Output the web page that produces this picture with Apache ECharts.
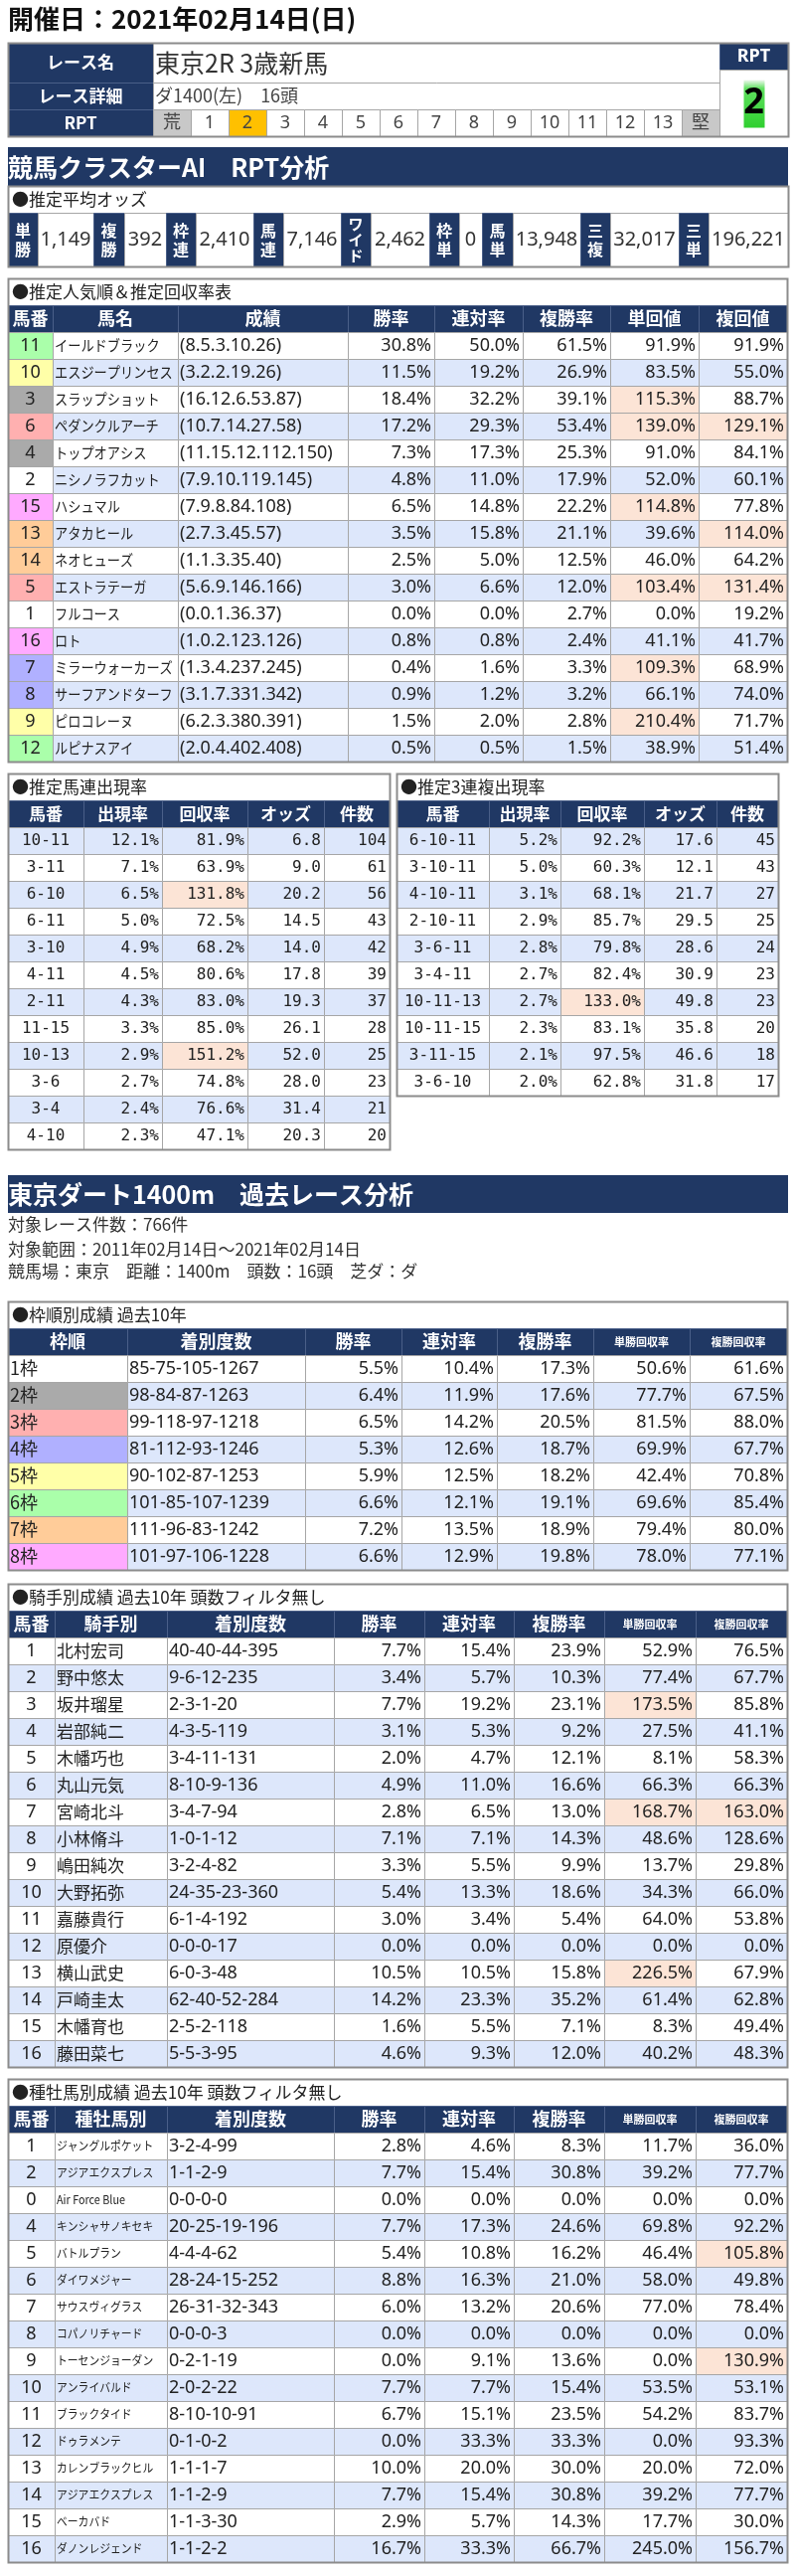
<!DOCTYPE html>
<html><head><meta charset="utf-8">
<script src="https://cdn.jsdelivr.net/npm/echarts@6/dist/echarts.min.js"></script>
<style>html,body{margin:0;padding:0;background:#fff}#c{width:800px;height:2591px}</style>
</head><body><div id="c"></div>
<script>
// ================= DATA =================
const pageTitle = '開催日：2021年02月14日(日)';
const raceLabels = ['レース名', 'レース詳細', 'RPT'];
const raceName = '東京2R 3歳新馬';
const raceDetail = 'ダ1400(左)　16頭';
const rptScale = ['荒','1','2','3','4','5','6','7','8','9','10','11','12','13','堅'];
const rptValue = 2;

const banner1 = '競馬クラスターAI　RPT分析';
const oddsTitle = '●推定平均オッズ';
const oddsLabels = ['単勝','複勝','枠連','馬連','ワイド','枠単','馬単','三複','三単'];
const oddsValues = [1149, 392, 2410, 7146, 2462, 0, 13948, 32017, 196221];

const popTitle = '●推定人気順＆推定回収率表';
const popHeaders = ['馬番','馬名','成績','勝率','連対率','複勝率','単回値','複回値'];
const popNo = [11,10,3,6,4,2,15,13,14,5,1,16,7,8,9,12];
const popName = ['イールドブラック','エスジープリンセス','スラップショット','ペダンクルアーチ','トップオアシス','ニシノラフカット','ハシュマル','アタカヒール','ネオヒューズ','エストラテーガ','フルコース','ロト','ミラーウォーカーズ','サーフアンドターフ','ピロコレーヌ','ルピナスアイ'];
const popRecord = ['(8.5.3.10.26)','(3.2.2.19.26)','(16.12.6.53.87)','(10.7.14.27.58)','(11.15.12.112.150)','(7.9.10.119.145)','(7.9.8.84.108)','(2.7.3.45.57)','(1.1.3.35.40)','(5.6.9.146.166)','(0.0.1.36.37)','(1.0.2.123.126)','(1.3.4.237.245)','(3.1.7.331.342)','(6.2.3.380.391)','(2.0.4.402.408)'];
const popWin = [30.8,11.5,18.4,17.2,7.3,4.8,6.5,3.5,2.5,3.0,0.0,0.8,0.4,0.9,1.5,0.5];
const popRentai = [50.0,19.2,32.2,29.3,17.3,11.0,14.8,15.8,5.0,6.6,0.0,0.8,1.6,1.2,2.0,0.5];
const popFukusho = [61.5,26.9,39.1,53.4,25.3,17.9,22.2,21.1,12.5,12.0,2.7,2.4,3.3,3.2,2.8,1.5];
const popTanKai = [91.9,83.5,115.3,139.0,91.0,52.0,114.8,39.6,46.0,103.4,0.0,41.1,109.3,66.1,210.4,38.9];
const popFukuKai = [91.9,55.0,88.7,129.1,84.1,60.1,77.8,114.0,64.2,131.4,19.2,41.7,68.9,74.0,71.7,51.4];

const pairHeaders = ['馬番','出現率','回収率','オッズ','件数'];
const umarenTitle = '●推定馬連出現率';
const umarenCombo = ['10-11','3-11','6-10','6-11','3-10','4-11','2-11','11-15','10-13','3-6','3-4','4-10'];
const umarenRate = [12.1,7.1,6.5,5.0,4.9,4.5,4.3,3.3,2.9,2.7,2.4,2.3];
const umarenReturn = [81.9,63.9,131.8,72.5,68.2,80.6,83.0,85.0,151.2,74.8,76.6,47.1];
const umarenOdds = [6.8,9.0,20.2,14.5,14.0,17.8,19.3,26.1,52.0,28.0,31.4,20.3];
const umarenCount = [104,61,56,43,42,39,37,28,25,23,21,20];

const trioTitle = '●推定3連複出現率';
const trioCombo = ['6-10-11','3-10-11','4-10-11','2-10-11','3-6-11','3-4-11','10-11-13','10-11-15','3-11-15','3-6-10'];
const trioRate = [5.2,5.0,3.1,2.9,2.8,2.7,2.7,2.3,2.1,2.0];
const trioReturn = [92.2,60.3,68.1,85.7,79.8,82.4,133.0,83.1,97.5,62.8];
const trioOdds = [17.6,12.1,21.7,29.5,28.6,30.9,49.8,35.8,46.6,31.8];
const trioCount = [45,43,27,25,24,23,23,20,18,17];

const banner2 = '東京ダート1400m　過去レース分析';
const infoLines = ['対象レース件数：766件', '対象範囲：2011年02月14日～2021年02月14日', '競馬場：東京　距離：1400m　頭数：16頭　芝ダ：ダ'];

const wakuTitle = '●枠順別成績 過去10年';
const wakuHeaders = ['枠順','着別度数','勝率','連対率','複勝率','単勝回収率','複勝回収率'];
const wakuLabel = ['1枠','2枠','3枠','4枠','5枠','6枠','7枠','8枠'];
const wakuRecord = ['85-75-105-1267','98-84-87-1263','99-118-97-1218','81-112-93-1246','90-102-87-1253','101-85-107-1239','111-96-83-1242','101-97-106-1228'];
const wakuWin = [5.5,6.4,6.5,5.3,5.9,6.6,7.2,6.6];
const wakuRentai = [10.4,11.9,14.2,12.6,12.5,12.1,13.5,12.9];
const wakuFuku = [17.3,17.6,20.5,18.7,18.2,19.1,18.9,19.8];
const wakuTanKai = [50.6,77.7,81.5,69.9,42.4,69.6,79.4,78.0];
const wakuFukuKai = [61.6,67.5,88.0,67.7,70.8,85.4,80.0,77.1];

const jockeyTitle = '●騎手別成績 過去10年 頭数フィルタ無し';
const jockeyHeaders = ['馬番','騎手別','着別度数','勝率','連対率','複勝率','単勝回収率','複勝回収率'];
const jockeyNo = [1,2,3,4,5,6,7,8,9,10,11,12,13,14,15,16];
const jockeyName = ['北村宏司','野中悠太','坂井瑠星','岩部純二','木幡巧也','丸山元気','宮崎北斗','小林脩斗','嶋田純次','大野拓弥','嘉藤貴行','原優介','横山武史','戸崎圭太','木幡育也','藤田菜七'];
const jockeyRecord = ['40-40-44-395','9-6-12-235','2-3-1-20','4-3-5-119','3-4-11-131','8-10-9-136','3-4-7-94','1-0-1-12','3-2-4-82','24-35-23-360','6-1-4-192','0-0-0-17','6-0-3-48','62-40-52-284','2-5-2-118','5-5-3-95'];
const jockeyWin = [7.7,3.4,7.7,3.1,2.0,4.9,2.8,7.1,3.3,5.4,3.0,0.0,10.5,14.2,1.6,4.6];
const jockeyRentai = [15.4,5.7,19.2,5.3,4.7,11.0,6.5,7.1,5.5,13.3,3.4,0.0,10.5,23.3,5.5,9.3];
const jockeyFuku = [23.9,10.3,23.1,9.2,12.1,16.6,13.0,14.3,9.9,18.6,5.4,0.0,15.8,35.2,7.1,12.0];
const jockeyTanKai = [52.9,77.4,173.5,27.5,8.1,66.3,168.7,48.6,13.7,34.3,64.0,0.0,226.5,61.4,8.3,40.2];
const jockeyFukuKai = [76.5,67.7,85.8,41.1,58.3,66.3,163.0,128.6,29.8,66.0,53.8,0.0,67.9,62.8,49.4,48.3];
const jockeyMarked = [[2,0],[6,0],[6,1],[12,0]]; // [row, 0=単勝回収率 / 1=複勝回収率]

const sireTitle = '●種牡馬別成績 過去10年 頭数フィルタ無し';
const sireHeaders = ['馬番','種牡馬別','着別度数','勝率','連対率','複勝率','単勝回収率','複勝回収率'];
const sireNo = [1,2,0,4,5,6,7,8,9,10,11,12,13,14,15,16];
const sireName = ['ジャングルポケット','アジアエクスプレス','Air Force Blue','キンシャサノキセキ','バトルプラン','ダイワメジャー','サウスヴィグラス','コパノリチャード','トーセンジョーダン','アンライバルド','ブラックタイド','ドゥラメンテ','カレンブラックヒル','アジアエクスプレス','ベーカバド','ダノンレジェンド'];
const sireRecord = ['3-2-4-99','1-1-2-9','0-0-0-0','20-25-19-196','4-4-4-62','28-24-15-252','26-31-32-343','0-0-0-3','0-2-1-19','2-0-2-22','8-10-10-91','0-1-0-2','1-1-1-7','1-1-2-9','1-1-3-30','1-1-2-2'];
const sireWin = [2.8,7.7,0.0,7.7,5.4,8.8,6.0,0.0,0.0,7.7,6.7,0.0,10.0,7.7,2.9,16.7];
const sireRentai = [4.6,15.4,0.0,17.3,10.8,16.3,13.2,0.0,9.1,7.7,15.1,33.3,20.0,15.4,5.7,33.3];
const sireFuku = [8.3,30.8,0.0,24.6,16.2,21.0,20.6,0.0,13.6,15.4,23.5,33.3,30.0,30.8,14.3,66.7];
const sireTanKai = [11.7,39.2,0.0,69.8,46.4,58.0,77.0,0.0,0.0,53.5,54.2,0.0,20.0,39.2,17.7,245.0];
const sireFukuKai = [36.0,77.7,0.0,92.2,105.8,49.8,78.4,0.0,130.9,53.1,83.7,93.3,72.0,77.7,30.0,156.7];
const sireMarked = [[4,1],[8,1]];

// ================= STYLE / LAYOUT =================
const NAVY = '#203864', NAVYLINE = '#4a5f88', STRIPE = '#dde7fb', HL = '#fce4d6', LINE = '#a6a6a6', FRAME = '#8c8c8c', TXT = '#222';
const CJK = '"Noto Sans CJK JP"';
const SANS = '"Noto Sans", "Noto Sans CJK JP"';
const MONO = '"DejaVu Sans Mono", "Noto Sans CJK JP"';
const wakuFill = ['#ffffff','#aaaaaa','#ffb0b0','#b0b0ff','#ffffa8','#aaffaa','#ffcc99','#ffaaff'];
const horseFill = n => wakuFill[Math.ceil(n / 2) - 1];
const pct = v => v.toFixed(1) + '%';
const stripe = (i, firstBlue) => ((i % 2 === 0) === !!firstBlue) ? STRIPE : '#ffffff';

const option = { animation: false, grid: [], xAxis: [], yAxis: [], series: [], graphic: { elements: [] } };

function renderCells(cells, edges) {
  return function (params, api) {
    const c = cells[params.dataIndex];
    const bh = api.size([0, 1])[1];
    const xa = Math.round(api.coord([edges[c.c0], c.r0])[0]);
    const xb = Math.round(api.coord([edges[c.c1], c.r0])[0]);
    let ya = Math.round(api.coord([edges[0], c.r0])[1] - bh / 2);
    let yb = Math.round(api.coord([edges[0], c.r1])[1] + bh / 2);
    if (c.inset) { ya += c.inset[0]; yb -= c.inset[1]; }
    const ch = [];
    ch.push({ type: 'rect', shape: { x: xa + 0.5, y: ya + 0.5, width: xb - xa, height: yb - ya },
      style: { fill: c.fill || 'none', stroke: c.stroke || 'none', lineWidth: c.lw || 1 } });
    if (c.text !== undefined && c.text !== '') {
      const pad = c.pad == null ? 4 : c.pad;
      const al = c.align || 'center';
      const tx = al === 'left' ? xa + pad : al === 'right' ? xb - pad : (xa + xb) / 2;
      ch.push({ type: 'text', x: tx, y: (ya + yb) / 2 + (c.dy || 0), scaleX: c.sx || 1,
        style: { text: String(c.text), fill: c.color || TXT, font: c.font, align: al, verticalAlign: 'middle', lineHeight: c.lh } });
    }
    return { type: 'group', children: ch };
  };
}

function addTable(top, bandH, nBands, edges, cells) {
  const gi = option.grid.length;
  const x0 = edges[0], x1 = Math.max(...edges);
  option.grid.push({ left: x0, top: top, width: x1 - x0, height: bandH * nBands });
  option.xAxis.push({ type: 'value', gridIndex: gi, min: x0, max: x1, show: false });
  option.yAxis.push({ type: 'category', gridIndex: gi, inverse: true, show: false,
    data: Array.from({ length: nBands }, (_, i) => String(i)) });
  option.series.push({ type: 'custom', xAxisIndex: gi, yAxisIndex: gi, clip: false, silent: true,
    data: cells.map(c => [edges[c.c0], c.r0]), renderItem: renderCells(cells, edges) });
}

// generic data table builder
function buildTable(top, edges, title, headers, rows, opt) {
  const cells = [];
  const n = edges.length - 1;
  cells.push({ c0: 0, c1: n, r0: 0, r1: 0, fill: '#fff', stroke: LINE, text: title, align: 'left', pad: 4, font: '17px ' + CJK });
  headers.forEach((h, j) => {
    const small = h.length >= 5;
    cells.push({ c0: j, c1: j + 1, r0: 1, r1: 1, fill: NAVY, stroke: NAVYLINE, text: h, color: '#fff',
      font: 'bold ' + (small ? (opt.smallHead || 11) : (opt.headSize || 17)) + 'px ' + CJK });
  });
  rows.forEach((row, i) => {
    row.forEach((cell, j) => {
      cells.push(Object.assign({ c0: j, c1: j + 1, r0: 2 + i, r1: 2 + i, fill: stripe(i, opt.firstBlue), stroke: LINE }, cell));
    });
  });
  cells.push({ c0: 0, c1: n, r0: 0, r1: rows.length + 1, fill: 'none', stroke: FRAME, lw: 2 });
  addTable(top, 27, rows.length + 2, edges, cells);
}

// ---------- page title ----------
option.graphic.elements.push({ type: 'text', left: 8, top: 6, style: { text: pageTitle, font: 'bold 26px ' + CJK, fill: '#111' } });

// ---------- race info box ----------
(function () {
  const edges = [8, 154, 192, 230, 268, 306, 344, 382, 420, 458, 496, 534, 572, 610, 648, 686, 724, 793, 748, 769];
  const cells = [];
  const lab = { fill: NAVY, stroke: NAVYLINE, color: '#fff', font: 'bold 17px ' + CJK };
  cells.push(Object.assign({ c0: 0, c1: 1, r0: 0, r1: 2, text: raceLabels[0] }, lab));
  cells.push(Object.assign({ c0: 0, c1: 1, r0: 3, r1: 4, text: raceLabels[1] }, lab));
  cells.push(Object.assign({ c0: 0, c1: 1, r0: 5, r1: 6, text: raceLabels[2] }, lab));
  cells.push({ c0: 1, c1: 16, r0: 0, r1: 2, fill: '#fff', stroke: LINE, text: raceName, align: 'left', pad: 2, font: '25px ' + CJK, color: '#333' });
  cells.push({ c0: 1, c1: 16, r0: 3, r1: 4, fill: '#fff', stroke: LINE, text: raceDetail, align: 'left', pad: 2, font: '18px ' + CJK, color: '#444' });
  rptScale.forEach((s, k) => {
    const isEnd = k === 0 || k === rptScale.length - 1;
    cells.push({ c0: 1 + k, c1: 2 + k, r0: 5, r1: 6, stroke: LINE,
      fill: isEnd ? '#c8c8c8' : (s === String(rptValue) ? '#ffc000' : '#fff'),
      text: s, font: '18px ' + SANS, color: '#444' });
  });
  cells.push({ c0: 16, c1: 17, r0: 0, r1: 1, fill: NAVY, stroke: NAVYLINE, text: 'RPT', color: '#fff', font: 'bold 18px ' + SANS });
  cells.push({ c0: 16, c1: 17, r0: 2, r1: 6, fill: '#fff', stroke: LINE });
  cells.push({ c0: 18, c1: 19, r0: 2, r1: 6, inset: [10, 9],
    fill: { type: 'linear', x: 0, y: 0, x2: 0, y2: 1, colorStops: [{ offset: 0, color: '#eef8ee' }, { offset: 0.18, color: '#5fe05f' }, { offset: 1, color: '#2fcf2f' }] },
    text: String(rptValue), font: 'bold 36px ' + SANS, color: '#000' });
  cells.push({ c0: 0, c1: 17, r0: 0, r1: 6, fill: 'none', stroke: FRAME, lw: 2 });
  addTable(43, 94 / 7, 7, edges, cells);
})();

// ---------- banner 1 + odds ----------
option.graphic.elements.push({ type: 'rect', shape: { x: 8, y: 148, width: 785, height: 39 }, style: { fill: NAVY } });
option.graphic.elements.push({ type: 'text', x: 8, y: 168, style: { text: banner1, font: 'bold 25px ' + CJK, fill: '#fff', verticalAlign: 'middle' } });
(function () {
  const edges = [8, 38, 94, 125, 167, 197, 255, 285, 343, 373, 432, 462, 485, 516, 584, 614, 683, 713, 793];
  const cells = [];
  cells.push({ c0: 0, c1: 18, r0: 0, r1: 1, fill: '#fff', stroke: LINE, text: oddsTitle, align: 'left', pad: 4, font: '17px ' + CJK });
  oddsLabels.forEach((l, i) => {
    const three = l.length > 2;
    cells.push({ c0: 2 * i, c1: 2 * i + 1, r0: 2, r1: 5, fill: NAVY, stroke: NAVYLINE, color: '#fff',
      text: l.split('').join('\n'), font: 'bold ' + (three ? 15 : 16) + 'px ' + CJK, lh: three ? 16 : 19 });
    cells.push({ c0: 2 * i + 1, c1: 2 * i + 2, r0: 2, r1: 5, fill: '#fff', stroke: LINE, color: '#333',
      text: oddsValues[i].toLocaleString('en-US'), font: '20px ' + SANS });
  });
  cells.push({ c0: 0, c1: 18, r0: 0, r1: 5, fill: 'none', stroke: FRAME, lw: 2 });
  addTable(187, 13.5, 6, edges, cells);
})();

// ---------- popularity table ----------
(function () {
  const num = '18px ' + SANS;
  const rows = popNo.map((no, i) => {
    const vals = [popWin[i], popRentai[i], popFukusho[i], popTanKai[i], popFukuKai[i]];
    return [
      { text: no, fill: horseFill(no), font: num },
      { text: popName[i], align: 'left', pad: 2, font: '15px ' + CJK, sx: 0.88 },
      { text: popRecord[i], align: 'left', pad: 2, font: num },
    ].concat(vals.map((v, k) => Object.assign({ text: pct(v), align: 'right', pad: 3, font: num }, (k >= 3 && v >= 100) ? { fill: HL } : {})));
  });
  buildTable(280, [8, 53, 179, 350, 437, 526, 614, 703, 792], popTitle, popHeaders, rows, { headSize: 18 });
})();

// ---------- pair tables ----------
function pairRows(combo, rate, ret, odds, count) {
  const f = '16px ' + MONO;
  return combo.map((c, i) => [
    { text: c, font: f },
    { text: pct(rate[i]), align: 'right', pad: 3, font: f },
    Object.assign({ text: pct(ret[i]), align: 'right', pad: 3, font: f }, ret[i] >= 100 ? { fill: HL } : {}),
    { text: odds[i].toFixed(1), align: 'right', pad: 3, font: f },
    { text: count[i], align: 'right', pad: 3, font: f },
  ]);
}
buildTable(778, [8, 84, 163, 249, 326, 392], umarenTitle, pairHeaders,
  pairRows(umarenCombo, umarenRate, umarenReturn, umarenOdds, umarenCount), { firstBlue: true, headSize: 17 });
buildTable(778, [399, 492, 564, 648, 721, 783], trioTitle, pairHeaders,
  pairRows(trioCombo, trioRate, trioReturn, trioOdds, trioCount), { firstBlue: true, headSize: 17 });

// ---------- banner 2 + info ----------
option.graphic.elements.push({ type: 'rect', shape: { x: 8, y: 1182, width: 785, height: 38 }, style: { fill: NAVY } });
option.graphic.elements.push({ type: 'text', x: 8, y: 1201, style: { text: banner2, font: 'bold 25px ' + CJK, fill: '#fff', verticalAlign: 'middle' } });
[1232, 1257, 1279].forEach((y, i) => option.graphic.elements.push({ type: 'text', x: 8, y: y, style: { text: infoLines[i], font: '17px ' + CJK, fill: '#333', verticalAlign: 'middle' } }));

// ---------- waku table ----------
(function () {
  const num = '18px ' + SANS;
  const rows = wakuLabel.map((l, i) => [
    { text: l, align: 'left', pad: 2, font: '18px ' + CJK, fill: wakuFill[i] },
    { text: wakuRecord[i], align: 'left', pad: 2, font: num },
  ].concat([wakuWin[i], wakuRentai[i], wakuFuku[i], wakuTanKai[i], wakuFukuKai[i]].map(v => ({ text: pct(v), align: 'right', pad: 3, font: num }))));
  buildTable(1309, [8, 128, 307, 404, 500, 597, 694, 792], wakuTitle, wakuHeaders, rows, { headSize: 18 });
})();

// ---------- jockey / sire tables ----------
function statRows(no, name, nameFont, nameSx, record, win, ren, fuku, tan, fk, marked) {
  const num = '18px ' + SANS;
  return no.map((n, i) => [
    { text: n, font: num },
    { text: name[i], align: 'left', pad: 2, font: nameFont, sx: nameSx },
    { text: record[i], align: 'left', pad: 2, font: num },
  ].concat([win[i], ren[i], fuku[i], tan[i], fk[i]].map((v, k) => Object.assign({ text: pct(v), align: 'right', pad: 3, font: num },
    (k >= 3 && marked.some(m => m[0] === i && m[1] === k - 3)) ? { fill: HL } : {}))));
}
buildTable(1593, [8, 55, 168, 336, 427, 517, 608, 700, 792], jockeyTitle, jockeyHeaders,
  statRows(jockeyNo, jockeyName, '17px ' + CJK, 1, jockeyRecord, jockeyWin, jockeyRentai, jockeyFuku, jockeyTanKai, jockeyFukuKai, jockeyMarked), { headSize: 18 });
buildTable(2091, [8, 55, 168, 336, 427, 517, 608, 700, 792], sireTitle, sireHeaders,
  statRows(sireNo, sireName, '12px ' + CJK, 0.9, sireRecord, sireWin, sireRentai, sireFuku, sireTanKai, sireFukuKai, sireMarked), { headSize: 18 });

const chart = echarts.init(document.getElementById('c'), null, { renderer: 'canvas' });
chart.setOption(option);
</script>
</body></html>
